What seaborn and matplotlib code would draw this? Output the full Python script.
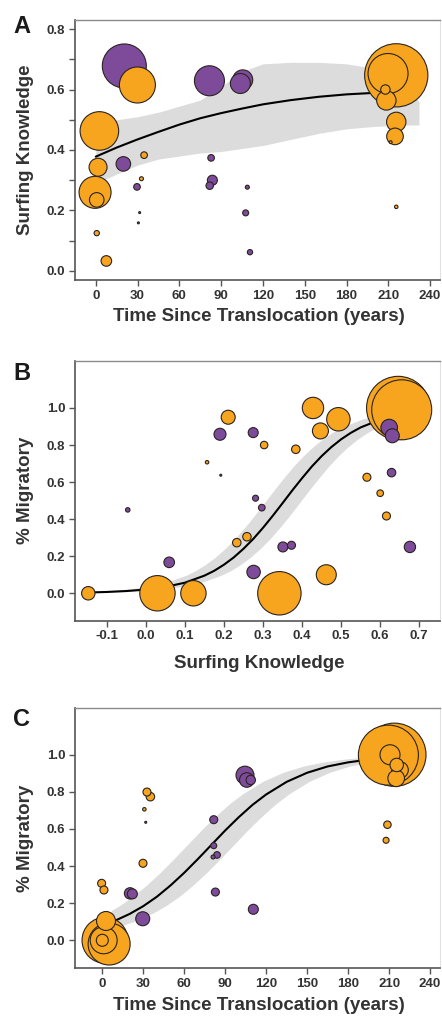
import numpy as np
import pandas as pd
import matplotlib
matplotlib.use("Agg")
import matplotlib.pyplot as plt
import seaborn as sns

# ---------------- data ----------------
# Panel A: surfing knowledge vs time since translocation
a_time = [20.5, 29.9, 2.6, 1.65, 19.8, 34.7, -0.5, 0.7, 32.8, 29.6, 31.5, 30.6, 0.7, 7.6,
          81.6, 105.5, 103.8, 82.8, 83.7, 81.8, 108.8, 107.6, 110.7,
          215.7, 209.8, 207.9, 208.6, 215.7, 214.8, 211.7, 215.7]
a_know = [0.678, 0.615, 0.463, 0.343, 0.354, 0.383, 0.26, 0.235, 0.305, 0.278, 0.193, 0.159, 0.125, 0.033,
          0.629, 0.632, 0.62, 0.374, 0.30, 0.282, 0.277, 0.192, 0.062,
          0.647, 0.653, 0.60, 0.564, 0.493, 0.445, 0.426, 0.212]
a_size = [484, 324, 372, 81, 53, 11, 256, 53, 4, 11, 1, 1, 7, 28,
          225, 100, 100, 11, 25, 14, 4, 9, 7,
          1681, 400, 22, 94, 94, 69, 2, 3]
a_group = ["P", "O", "O", "O", "P", "O", "O", "O", "O", "P", "P", "P", "O", "O",
           "P", "P", "P", "P", "P", "P", "P", "P", "P",
           "O", "O", "O", "O", "O", "O", "O", "O"]

a_curve_t = [0, 15, 30, 45, 60, 75, 90, 105, 120, 140, 160, 180, 200, 212]
a_curve_v = [0.378, 0.408, 0.435, 0.46, 0.484, 0.505, 0.522, 0.537, 0.551, 0.565, 0.576, 0.584, 0.589, 0.591]
a_band_t = [0, 15, 30, 45, 60, 75, 90, 105, 120, 140, 160, 180, 200, 220, 232]
a_band_lo = [0.29, 0.32, 0.35, 0.37, 0.38, 0.39, 0.395, 0.405, 0.415, 0.435, 0.455, 0.47, 0.478, 0.482, 0.483]
a_band_hi = [0.49, 0.50, 0.51, 0.525, 0.545, 0.565, 0.61, 0.66, 0.685, 0.69, 0.69, 0.685, 0.67, 0.62, 0.56]

# Panel B: % migratory vs surfing knowledge
b_know = [-0.147, 0.030, 0.122, 0.060, -0.046, 0.211, 0.190, 0.275, 0.303, 0.157, 0.192, 0.281, 0.297,
          0.233, 0.259, 0.276, 0.342, 0.428, 0.493, 0.447, 0.384, 0.646, 0.655, 0.623, 0.631,
          0.566, 0.629, 0.600, 0.616, 0.676, 0.351, 0.373, 0.462]
b_migr = [0.0, 0.0, 0.0, 0.167, 0.45, 0.95, 0.858, 0.867, 0.80, 0.707, 0.637, 0.513, 0.462,
          0.273, 0.305, 0.115, 0.0, 1.0, 0.939, 0.876, 0.777, 1.0, 0.99, 0.894, 0.85,
          0.626, 0.651, 0.54, 0.417, 0.25, 0.25, 0.259, 0.10]
b_size = [45, 313, 161, 28, 5, 49, 36, 25, 14, 3, 1, 9, 11,
          18, 18, 45, 471, 114, 137, 64, 18, 1156, 900, 69, 49,
          16, 18, 11, 16, 32, 25, 16, 100]
b_group = ["O", "O", "O", "P", "P", "O", "P", "P", "O", "O", "P", "P", "P",
           "O", "O", "P", "O", "O", "O", "O", "O", "O", "O", "P", "P",
           "O", "P", "O", "O", "P", "P", "P", "O"]

b_curve_k = [-0.15, -0.10, -0.05, 0.0, 0.05, 0.10, 0.15, 0.175, 0.20, 0.225, 0.25, 0.275, 0.30,
             0.325, 0.35, 0.375, 0.40, 0.425, 0.45, 0.475, 0.50, 0.525, 0.55, 0.60, 0.63]
b_curve_v = [0.004, 0.007, 0.012, 0.020, 0.034, 0.057, 0.095, 0.121, 0.154, 0.193, 0.240, 0.293, 0.353,
             0.418, 0.486, 0.555, 0.621, 0.684, 0.740, 0.789, 0.831, 0.866, 0.895, 0.937, 0.954]
b_band_up_k = [-0.12, -0.095, -0.045, 0.005, 0.055, 0.105, 0.13, 0.155, 0.18, 0.205, 0.23, 0.255, 0.28,
               0.305, 0.33, 0.355, 0.38, 0.405, 0.43, 0.455, 0.48, 0.505, 0.555, 0.585, 0.62]
b_band_up_v = [0.009, 0.012, 0.020, 0.034, 0.057, 0.095, 0.121, 0.154, 0.193, 0.240, 0.293, 0.353, 0.418,
               0.486, 0.555, 0.621, 0.684, 0.740, 0.789, 0.831, 0.866, 0.895, 0.937, 0.954, 0.965]
b_band_lo_k = [-0.12, -0.105, -0.055, -0.005, 0.045, 0.095, 0.145, 0.195, 0.22, 0.245, 0.27, 0.295, 0.32,
               0.345, 0.37, 0.395, 0.42, 0.445, 0.47, 0.495, 0.52, 0.545, 0.57, 0.595, 0.62]
b_band_lo_v = [0.002, 0.004, 0.007, 0.012, 0.020, 0.034, 0.057, 0.095, 0.121, 0.154, 0.193, 0.240, 0.293,
               0.353, 0.418, 0.486, 0.555, 0.621, 0.684, 0.740, 0.789, 0.831, 0.866, 0.895, 0.920]

# Panel C: % migratory vs time since translocation
c_time = [2.0, 5.0, 1.0, 0.0, 2.7, -0.5, 1.2, 20.3, 22.0, 29.6, 29.8, 32.7, 35.2, 30.8, 31.8,
          81.6, 81.6, 84.0, 81.1, 82.8, 110.6, 104.5, 105.8, 108.7,
          213.9, 209.5, 210.7, 215.6, 218.0, 215.2, 208.8, 207.8]
c_migr = [0.0, -0.02, 0.0, 0.0, 0.104, 0.307, 0.271, 0.253, 0.25, 0.116, 0.415, 0.799, 0.774, 0.706, 0.636,
          0.65, 0.51, 0.46, 0.449, 0.26, 0.167, 0.89, 0.864, 0.864,
          1.0, 0.998, 1.0, 0.945, 0.918, 0.873, 0.623, 0.539]
c_size = [529, 441, 182, 36, 90, 16, 16, 32, 25, 49, 16, 16, 18, 3, 1,
          16, 9, 11, 4, 16, 25, 81, 53, 22,
          1296, 900, 100, 45, 69, 69, 14, 9]
c_group = ["O", "O", "O", "O", "O", "O", "O", "P", "P", "P", "O", "O", "O", "O", "P",
           "P", "P", "P", "P", "P", "P", "P", "P", "P",
           "O", "O", "O", "O", "O", "O", "O", "O"]

c_curve_t = [5, 10, 20, 30, 40, 50, 60, 70, 80, 90, 100, 110, 120, 135, 150, 165, 180, 195, 210]
c_curve_v = [0.094, 0.108, 0.142, 0.184, 0.235, 0.296, 0.364, 0.438, 0.515, 0.592, 0.664, 0.730,
             0.786, 0.854, 0.903, 0.937, 0.959, 0.974, 0.984]
c_band_up_t = [7, 13, 23, 33, 43, 53, 63, 73, 83, 93, 103, 118, 133, 148, 163, 178, 193, 205]
c_band_up_v = [0.158, 0.184, 0.235, 0.296, 0.364, 0.438, 0.515, 0.592, 0.664, 0.730, 0.786, 0.854,
               0.903, 0.937, 0.959, 0.974, 0.984, 0.989]
c_band_lo_t = [7, 22, 27, 37, 47, 57, 67, 77, 87, 97, 107, 117, 127, 137, 152, 167, 182, 197, 205]
c_band_lo_v = [0.061, 0.094, 0.108, 0.142, 0.184, 0.235, 0.296, 0.364, 0.438, 0.515, 0.592, 0.664,
               0.730, 0.786, 0.854, 0.903, 0.937, 0.959, 0.966]

# ---------------- style ----------------
sns.set_theme(style="ticks")
plt.rcParams["font.family"] = ["Liberation Sans", "DejaVu Sans"]
plt.rcParams["font.weight"] = "bold"

ORANGE = "#F7A51E"
PURPLE = "#7E4B9B"
EDGE = "#2a2320"
BAND = "#dcdcdc"
TXT = "#333333"
palette = {"O": ORANGE, "P": PURPLE}

W, H = 442, 1016
fig = plt.figure(figsize=(W / 100, H / 100), dpi=100)


def rect(left, top, right, bottom):
    return [left / W, 1 - bottom / H, (right - left) / W, (bottom - top) / H]


axA = fig.add_axes(rect(75, 20, 440, 280))
axB = fig.add_axes(rect(75, 360.7, 440, 620.7))
axC = fig.add_axes(rect(75, 708, 440, 968.3))

SMAX = 1000.0


def bubbles(ax, x, y, size, group):
    df = pd.DataFrame({"x": x, "y": y, "n": size, "g": group})
    df = df.sort_values("n", ascending=False, kind="stable")
    sns.scatterplot(data=df, x="x", y="y", hue="g", palette=palette, size="n",
                    sizes=(0, 2.0736 * SMAX), size_norm=(0, SMAX), legend=False,
                    edgecolor=EDGE, linewidth=0.8, alpha=1, zorder=3, ax=ax)


def style_axis(ax):
    for side in ["left", "bottom"]:
        ax.spines[side].set_color("#555555")
        ax.spines[side].set_linewidth(1.2)
    ax.spines["top"].set_color("#8a8a8a")
    ax.spines["top"].set_linewidth(1.0)
    ax.spines["right"].set_color("#e2e2e2")
    ax.spines["right"].set_linewidth(0.8)
    ax.tick_params(axis="both", direction="out", length=4, width=1, color="#555555",
                   labelsize=9.5, labelcolor=TXT, pad=3)
    for lab in ax.get_xticklabels() + ax.get_yticklabels():
        lab.set_fontweight("bold")
    ax.set_facecolor("white")


# ---- Panel A ----
axA.fill_between(a_band_t, a_band_lo, a_band_hi, color=BAND, lw=0, zorder=1)
sns.lineplot(x=a_curve_t, y=a_curve_v, color="black", lw=1.5, ax=axA, zorder=2)
bubbles(axA, a_time, a_know, a_size, a_group)
axA.set_xlim(-14.9, 247.1)
axA.set_ylim(-0.03, 0.83)
axA.set_xticks(np.arange(0, 241, 30))
axA.set_xticklabels([str(v) for v in range(0, 241, 30)])
yt = np.round(np.arange(0, 0.81, 0.1), 1)
axA.set_yticks(yt)
axA.set_yticklabels([f"{v:.1f}" if i % 2 == 0 else "" for i, v in enumerate(yt)])
axA.set_xlabel("Time Since Translocation (years)")
axA.set_ylabel("Surfing Knowledge")

# ---- Panel B ----
axB.fill(b_band_up_k + b_band_lo_k[::-1], b_band_up_v + b_band_lo_v[::-1],
         color=BAND, lw=0, zorder=1)
sns.lineplot(x=b_curve_k, y=b_curve_v, color="black", lw=1.5, ax=axB, zorder=2)
bubbles(axB, b_know, b_migr, b_size, b_group)
axB.set_xlim(-0.181, 0.753)
axB.set_ylim(-0.148, 1.255)
xtb = np.round(np.arange(-0.1, 0.71, 0.1), 1)
axB.set_xticks(xtb)
axB.set_xticklabels([f"{v:.1f}" for v in xtb])
ytb = np.round(np.arange(0, 1.01, 0.2), 1)
axB.set_yticks(ytb)
axB.set_yticklabels([f"{v:.1f}" for v in ytb])
axB.set_xlabel("Surfing Knowledge")
axB.set_ylabel("% Migratory")

# ---- Panel C ----
axC.fill(c_band_up_t + c_band_lo_t[::-1], c_band_up_v + c_band_lo_v[::-1],
         color=BAND, lw=0, zorder=1)
sns.lineplot(x=c_curve_t, y=c_curve_v, color="black", lw=1.5, ax=axC, zorder=2)
bubbles(axC, c_time, c_migr, c_size, c_group)
axC.set_xlim(-20.0, 247.3)
axC.set_ylim(-0.151, 1.252)
axC.set_xticks(np.arange(0, 241, 30))
axC.set_xticklabels([str(v) for v in range(0, 241, 30)])
axC.set_yticks(ytb)
axC.set_yticklabels([f"{v:.1f}" for v in ytb])
axC.set_xlabel("Time Since Translocation (years)")
axC.set_ylabel("% Migratory")

for ax, xl_y, ax_h in [(axA, 316.7 - 280, 260), (axB, 663 - 620.7, 260), (axC, 1005 - 968.3, 260.3)]:
    style_axis(ax)
    ax.xaxis.label.set_fontsize(13.5)
    ax.xaxis.label.set_fontweight("bold")
    ax.xaxis.label.set_color(TXT)
    ax.xaxis.label.set_va("center")
    ax.xaxis.set_label_coords((259 - 75) / 365, -xl_y / ax_h)
    ax.yaxis.label.set_fontsize(13.5)
    ax.yaxis.label.set_fontweight("bold")
    ax.yaxis.label.set_color(TXT)
    ax.yaxis.label.set_va("center")
    ax.yaxis.set_label_coords(-49 / 365, 0.5)

# panel letters
for letter, top in [("A", 15), ("B", 362), ("C", 708)]:
    fig.text(13 / W, 1 - top / H, letter, fontsize=17, fontweight="bold",
             color="#1a1a1a", ha="left", va="top")

fig.savefig("out.png", dpi=100, facecolor="white")
